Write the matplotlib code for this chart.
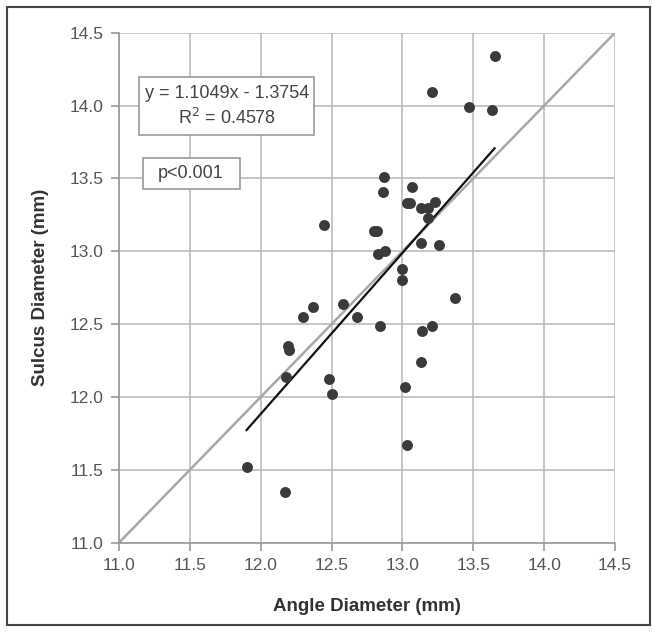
import matplotlib
matplotlib.use("Agg")
import matplotlib.pyplot as plt
import numpy as np
from matplotlib.patches import Rectangle

plt.rcParams['font.family'] = ['Liberation Sans', 'DejaVu Sans']

angle = [13.65, 13.21, 13.47, 13.63, 12.87, 12.86, 13.07, 13.03, 13.05, 13.13,
         13.18, 13.23, 13.18, 12.45, 12.80, 12.82, 13.13, 13.26, 12.83, 12.88,
         13.00, 13.00, 13.37, 12.58, 12.37, 12.30, 12.68, 12.84, 13.21, 13.14,
         12.19, 12.20, 13.13, 12.18, 12.48, 12.50, 13.02, 13.03, 11.90, 12.17]
sulcus = [14.34, 14.09, 13.99, 13.97, 13.51, 13.41, 13.44, 13.33, 13.33, 13.30,
          13.30, 13.34, 13.23, 13.18, 13.14, 13.14, 13.06, 13.04, 12.98, 13.00,
          12.88, 12.80, 12.68, 12.64, 12.62, 12.55, 12.55, 12.49, 12.49, 12.45,
          12.35, 12.32, 12.24, 12.14, 12.12, 12.02, 12.07, 11.67, 11.52, 11.35]
slope, intercept = 1.1049, -1.3754
fit_range = [11.9, 13.65]
ticks = [11.0, 11.5, 12.0, 12.5, 13.0, 13.5, 14.0, 14.5]

fig = plt.figure(figsize=(6.59, 6.33), dpi=100)
ax = fig.add_axes([119/659, 1-542.7/633, (615-119)/659, (542.7-32.7)/633])

ax.set_xlim(11.0, 14.5)
ax.set_ylim(11.0, 14.5)
ax.set_xticks(ticks)
ax.set_yticks(ticks)
ax.set_xticklabels([f"{t:.1f}" for t in ticks])
ax.set_yticklabels([f"{t:.1f}" for t in ticks])
ax.grid(True, color='#bcbcbc', linewidth=1.2)
ax.set_axisbelow(True)
for s in ['top', 'right']:
    ax.spines[s].set_visible(False)
for s in ['left', 'bottom']:
    ax.spines[s].set_color('#999999')
    ax.spines[s].set_linewidth(1.2)
ax.tick_params(direction='out', length=6, width=1.2, color='#999999',
               labelsize=12.5, labelcolor='#555555', pad=5)

# identity line
ax.plot([11.0, 14.5], [11.0, 14.5], color='#a8a8a8', linewidth=1.8, zorder=2)
# regression line
fx = np.array(fit_range)
ax.plot(fx, slope*fx + intercept, color='#111111', linewidth=1.6, zorder=3)
ax.scatter(angle, sulcus, s=62, color='#3a3a3a', zorder=4, linewidths=0)

ax.set_xlabel('Angle Diameter (mm)', fontsize=13.5, fontweight='bold', color='#333333', labelpad=18)
ax.set_ylabel('Sulcus Diameter (mm)', fontsize=13.5, fontweight='bold', color='#333333', labelpad=15)

# text boxes (in figure pixel coords)
def fbox(x0, y0, x1, y1):
    fig.patches.append(Rectangle((x0/659, 1-y1/633), (x1-x0)/659, (y1-y0)/633,
                                 transform=fig.transFigure, facecolor='white',
                                 edgecolor='#999999', linewidth=1.2, zorder=5))
fbox(139.3, 76.7, 314.3, 135.3)
fig.text(227/659, 1-93/633, 'y = 1.1049x - 1.3754', ha='center', va='center',
         fontsize=13, color='#444444', zorder=6)
fig.text(227/659, 1-118/633, 'R$^2$ = 0.4578', ha='center', va='center',
         fontsize=13, color='#444444', zorder=6)
fbox(142.7, 157.7, 240, 189.3)
fig.text(191/659, 1-173/633, 'p<0.001', ha='center', va='center',
         fontsize=13, color='#444444', zorder=6)

# outer frame
fig.patches.append(Rectangle((7/659, 1-625/633), (650-7)/659, (625-7)/633,
                             transform=fig.transFigure, fill=False,
                             edgecolor='#444444', linewidth=1.5, zorder=1))

fig.savefig('out.png', dpi=100, facecolor='white')
